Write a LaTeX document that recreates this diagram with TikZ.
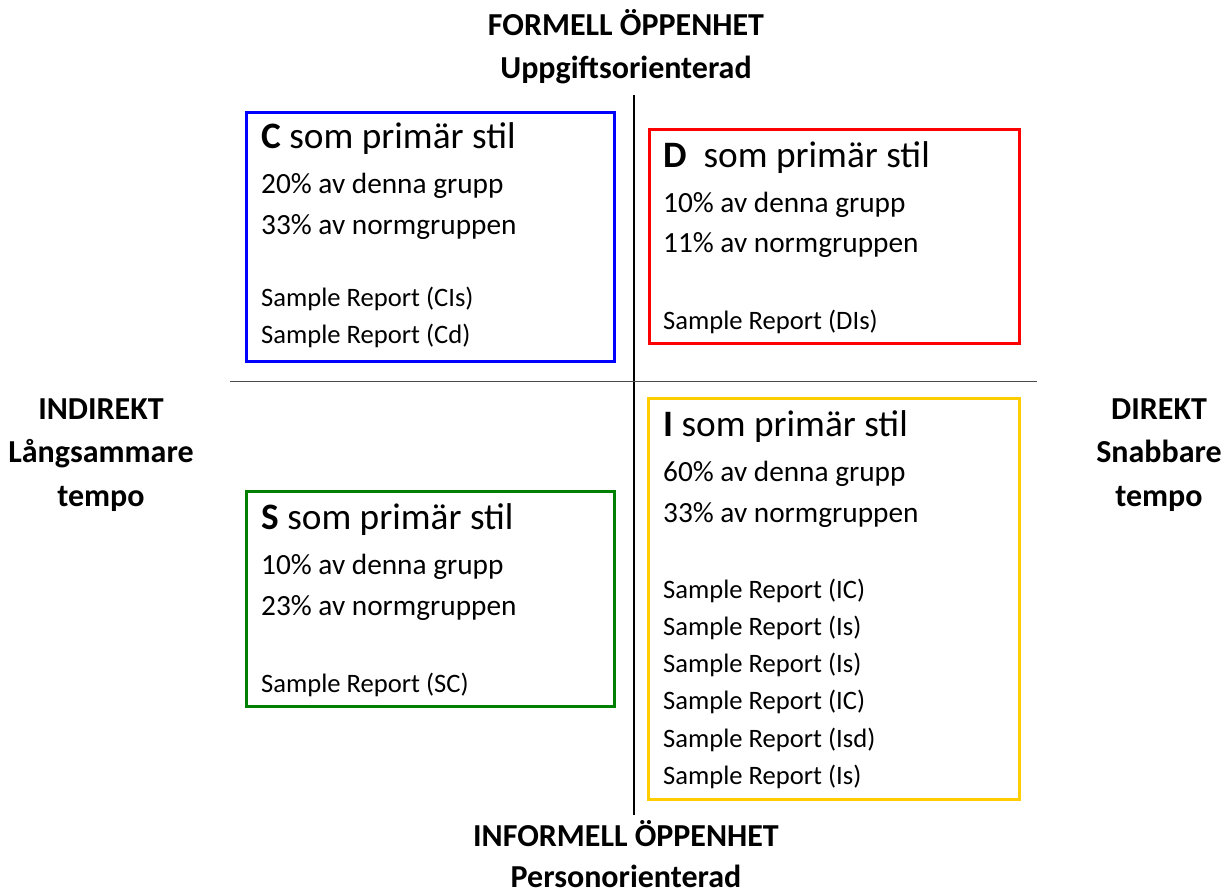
\documentclass[tikz,border=0pt]{standalone}
\usepackage{fontspec}
\setmainfont{Carlito}
\definecolor{cblue}{RGB}{0,0,255}
\definecolor{cred}{RGB}{255,0,0}
\definecolor{cgreen}{RGB}{0,128,0}
\definecolor{cyellow}{RGB}{255,204,0}
\tikzset{
  box/.style={draw, line width=3pt, inner sep=0pt},
  ttl/.style={anchor=base west, inner sep=0pt, font=\fontsize{37.3}{37.3}\selectfont},
  mid/.style={anchor=base west, inner sep=0pt, font=\fontsize{29.3}{29.3}\selectfont},
  smp/.style={anchor=base west, inner sep=0pt, font=\fontsize{26.6}{26.6}\selectfont},
  hdr/.style={anchor=base, inner sep=0pt, font=\bfseries\fontsize{32}{32}\selectfont},
}
\begin{document}
\begin{tikzpicture}[x=1pt,y=-1pt]
\useasboundingbox (0,0) rectangle (1228,895);
% axes
\coordinate (vt) at (634,95);
\coordinate (vb) at (634,815);
\coordinate (hl) at (230,381);
\coordinate (hr) at (1037,381);
\draw[line width=2pt] (vt) -- (vb);
\draw[line width=1pt, black!70] (hl) -- (hr);
% boxes
\draw[box, cblue] (246,112) rectangle (614,361);
\draw[box, cred] (649,129) rectangle (1019,343);
\draw[box, cyellow] (648,398) rectangle (1019,799);
\draw[box, cgreen] (246,491) rectangle (614,706);
% C box
\node[ttl] (c1) at (261,148) {\textbf{C} som primär stil};
\node[mid] (c2) at (261,193) {20\% av denna grupp};
\node[mid] (c3) at (261,234) {33\% av normgruppen};
\node[smp] (c4) at (261,306) {Sample Report (CIs)};
\node[smp] (c5) at (261,343) {Sample Report (Cd)};
% D box
\node[ttl] (d1) at (663,167) {\textbf{D}\ \ som primär stil};
\node[mid] (d2) at (663,212) {10\% av denna grupp};
\node[mid] (d3) at (663,252) {11\% av normgruppen};
\node[smp] (d4) at (663,329) {Sample Report (DIs)};
% I box
\node[ttl] (i1) at (663,436) {\textbf{I} som primär stil};
\node[mid] (i2) at (663,481) {60\% av denna grupp};
\node[mid] (i3) at (663,522) {33\% av normgruppen};
\node[smp] (i4) at (663,598) {Sample Report (IC)};
\node[smp] (i5) at (663,635) {Sample Report (Is)};
\node[smp] (i6) at (663,672) {Sample Report (Is)};
\node[smp] (i7) at (663,709) {Sample Report (IC)};
\node[smp] (i8) at (663,747) {Sample Report (Isd)};
\node[smp] (i9) at (663,784) {Sample Report (Is)};
% S box
\node[ttl] (s1) at (261,529) {\textbf{S} som primär stil};
\node[mid] (s2) at (261,574) {10\% av denna grupp};
\node[mid] (s3) at (261,615) {23\% av normgruppen};
\node[smp] (s4) at (261,692) {Sample Report (SC)};
% headers
\node[hdr] (t1) at (626,35) {FORMELL ÖPPENHET};
\node[hdr] (t2) at (626,78) {Uppgiftsorienterad};
\node[hdr] (b1) at (626,846) {INFORMELL ÖPPENHET};
\node[hdr] (b2) at (626,887) {Personorienterad};
\node[hdr] (l1) at (101,419) {INDIREKT};
\node[hdr] (l2) at (101,462) {Långsammare};
\node[hdr] (l3) at (101,506) {tempo};
\node[hdr] (r1) at (1159,419) {DIREKT};
\node[hdr] (r2) at (1159,462) {Snabbare};
\node[hdr] (r3) at (1159,506) {tempo};
\end{tikzpicture}
\end{document}
